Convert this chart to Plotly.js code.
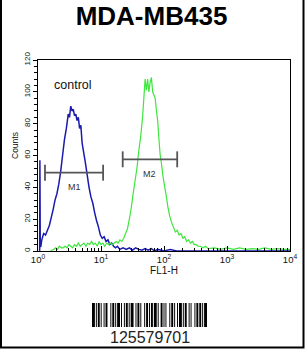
<!DOCTYPE html>
<html>
<head>
<meta charset="utf-8">
<script src="https://cdn.plot.ly/plotly-3.0.1.min.js"></script>
<style>html,body{margin:0;padding:0;background:#fff;}#chart{width:306px;height:350px;}</style>
</head>
<body>
<div id="chart"></div>
<script>
// ---- data (FL1-H given as log10 exponents, counts per channel) ----
const chartTitle = 'MDA-MB435';
const xTickExponents = [0, 1, 2, 3, 4];
const yTickValues = [0, 20, 40, 60, 80, 100, 120];

const blueLogFL1 = [0.026, 0.030, 0.036, 0.044, 0.060, 0.090, 0.120, 0.150, 0.180, 0.210, 0.240, 0.270, 0.300, 0.330, 0.360, 0.390, 0.420, 0.450, 0.480, 0.500, 0.520, 0.540, 0.560, 0.580, 0.600, 0.620, 0.640, 0.660, 0.680, 0.700, 0.720, 0.750, 0.780, 0.810, 0.840, 0.870, 0.900, 0.930, 0.960, 0.990, 1.020, 1.050, 1.080, 1.110, 1.140, 1.170, 1.200, 1.230, 1.260, 1.300, 1.350, 1.400, 1.450, 1.500, 1.550, 1.600, 1.650, 1.700, 1.750, 1.800, 1.850, 1.900, 2.000, 2.100, 2.200, 2.500, 3.000, 3.500, 4.000];
const blueCounts = [0, 57, 3, 2.5, 7, 11, 10, 13, 16, 21, 26, 32, 36, 42, 50, 60, 70, 77, 86, 84, 91, 88, 89, 85, 86, 82, 84, 77, 79, 68, 63, 56, 48, 40, 34, 30, 24, 19, 15, 10, 8, 9, 6, 7, 4, 5, 3, 2, 3, 1, 2, 1, 2, 0.5, 2, 1, 0.5, 1.5, 0.5, 1.5, 0, 1, 0, 1, 0, 0, 0, 0, 0];

const greenLogFL1 = [0.20, 0.22, 0.25, 0.28, 0.31, 0.34, 0.37, 0.40, 0.43, 0.46, 0.49, 0.52, 0.55, 0.58, 0.61, 0.64, 0.67, 0.70, 0.73, 0.76, 0.79, 0.82, 0.85, 0.88, 0.91, 0.94, 0.97, 1.00, 1.03, 1.06, 1.09, 1.12, 1.15, 1.18, 1.21, 1.24, 1.27, 1.30, 1.33, 1.36, 1.39, 1.42, 1.45, 1.48, 1.51, 1.54, 1.57, 1.60, 1.63, 1.66, 1.68, 1.70, 1.72, 1.74, 1.76, 1.78, 1.80, 1.82, 1.84, 1.86, 1.88, 1.90, 1.92, 1.94, 1.96, 1.98, 2.00, 2.03, 2.06, 2.09, 2.12, 2.15, 2.18, 2.21, 2.24, 2.27, 2.30, 2.33, 2.36, 2.39, 2.42, 2.45, 2.48, 2.51, 2.54, 2.58, 2.62, 2.66, 2.70, 2.80, 2.90, 3.00, 3.10, 3.20, 3.30, 3.40, 3.50, 3.60, 3.70, 3.80, 3.90, 4.00];
const greenCounts = [0, 0.5, 1, 2, 1, 3, 2, 2, 3, 2, 4, 3, 2, 4, 3, 5, 3, 4, 5, 3, 5, 4, 6, 4, 5, 3, 6, 4, 5, 3, 5, 4, 5, 4, 5, 6, 5, 7, 6, 8, 11, 14, 20, 27, 36, 44, 52, 63, 72, 84, 96, 108, 101, 108, 100, 106, 109, 100, 98, 96, 88, 82, 70, 60, 55, 48, 43, 36, 28, 22, 18, 15, 12, 13, 10, 11, 8, 9, 6, 7, 5, 6, 4, 4, 3, 3, 2, 3, 1.5, 2, 1, 2, 1, 2, 1, 1.5, 1, 2, 1, 1.5, 1, 1];

const gateNames = ['M1', 'M2'];
const gateLow = [1.29, 22.1];
const gateHigh = [10.8, 162];
const gateCount = [49.2, 57.6];

const barcodeText = '125579701';
const barcodeWidths = [3,1,1,1,2,1,1,2,1,1,2,3,1,1,2,1,1,1,3,1,1,2,1,1,2,1,1,1,3,2,1,1,2,1,1,3,1,1,2,1,1,1,2,1,3,1,1,2,2,1,1,1,1,3,1,1,2,1,1,2,1,1,3,1,1,1,2,2,1,1,1,3,1,1,2,1,2,1,1,1,3];

// ---- helpers ----
const pow10 = e => Math.pow(10, e);
// pixel -> paper conversion for plot area (l=38, r=290, t=60, b=251)
const PL = 38, PR = 290, PT = 60, PB = 251;
const px2x = px => (px - PL) / (PR - PL);
const py2y = py => (PB - py) / (PB - PT);
const FONT = 'Arial, Liberation Sans, sans-serif';

const traces = [
  {x: blueLogFL1.map(pow10), y: blueCounts, type: 'scatter', mode: 'lines',
   line: {color: '#1a1aae', width: 1.5, simplify: false}, hoverinfo: 'skip', showlegend: false},
  {x: greenLogFL1.map(pow10), y: greenCounts, type: 'scatter', mode: 'lines',
   line: {color: '#3ee63e', width: 1.2, simplify: false}, hoverinfo: 'skip', showlegend: false}
];
gateNames.forEach((n, i) => {
  const lo = gateLow[i], hi = gateHigh[i], c = gateCount[i];
  traces.push({x: [lo, lo, null, lo, hi, null, hi, hi],
               y: [c - 5, c + 5, null, c, c, null, c - 5, c + 5],
               type: 'scatter', mode: 'lines', line: {color: '#555555', width: 1.8},
               hoverinfo: 'skip', showlegend: false});
});

const annotations = [
  {text: 'control', xref: 'paper', yref: 'y', x: px2x(52), y: 104, xanchor: 'left', yanchor: 'middle',
   showarrow: false, font: {family: FONT, size: 12.5, color: '#111'}},
  {text: 'Counts', xref: 'paper', yref: 'paper', x: px2x(15), y: py2y(146), textangle: -90,
   xanchor: 'center', yanchor: 'middle', showarrow: false,
   font: {family: FONT, size: 8.5, color: '#111'}},
  {text: barcodeText, xref: 'paper', yref: 'paper', x: px2x(150), y: py2y(337), xanchor: 'center', yanchor: 'middle',
   showarrow: false, font: {family: FONT, size: 16, color: '#222'}}
];
gateNames.forEach((n, i) => {
  annotations.push({text: n, xref: 'x', yref: 'y',
    x: (Math.log10(gateLow[i]) + Math.log10(gateHigh[i])) / 2, y: gateCount[i] - 9,
    xanchor: 'center', yanchor: 'middle', showarrow: false,
    font: {family: FONT, size: 9, color: '#333'}});
});

// barcode shapes (decoration)
const shapes = [];
const bcLeft = 92, bcRight = 207;
const total = barcodeWidths.reduce((a, b) => a + b, 0);
const unit = (bcRight - bcLeft) / total;
let pos = bcLeft;
barcodeWidths.forEach((w, k) => {
  if (k % 2 === 0) {
    shapes.push({type: 'rect', xref: 'paper', yref: 'paper', x0: px2x(pos), x1: px2x(pos + w * unit),
      y0: py2y(327), y1: py2y(303), fillcolor: '#000', line: {width: 0}, layer: 'above'});
  }
  pos += w * unit;
});
// outer frame (left, bottom, right)
shapes.push({type: 'path', xref: 'paper', yref: 'paper',
  path: `M ${px2x(1)} ${py2y(0)} L ${px2x(1)} ${py2y(347.5)} L ${px2x(303.5)} ${py2y(347.5)} L ${px2x(303.5)} ${py2y(0)}`,
  line: {color: '#000', width: 2}});

const minorX = [];
for (let d = 0; d < 4; d++) for (let m = 2; m <= 9; m++) minorX.push(m * pow10(d));

const layout = {
  width: 306, height: 350,
  margin: {l: PL, r: 306 - PR, t: PT, b: 350 - PB, pad: 0},
  paper_bgcolor: '#fff', plot_bgcolor: '#fff',
  showlegend: false,
  title: {text: '<b>' + chartTitle + '</b>', xref: 'container', yref: 'container', x: 151.5 / 306, y: 1 - 16 / 350,
          xanchor: 'center', yanchor: 'middle',
          font: {family: FONT, size: 26, color: '#000'}},
  xaxis: {type: 'log', range: [0, 4], showgrid: false, zeroline: false,
          showline: true, linecolor: '#000', linewidth: 1, mirror: true,
          tickvals: xTickExponents.map(pow10), ticktext: xTickExponents.map(e => '10<sup>' + e + '</sup>'),
          ticks: 'inside', ticklen: 5, tickcolor: '#000',
          minor: {tickvals: minorX, ticks: 'inside', ticklen: 3, tickcolor: '#000'},
          tickfont: {family: FONT, size: 9.5, color: '#111'},
          title: {text: 'FL1-H', standoff: 2, font: {family: FONT, size: 10, color: '#111'}}},
  yaxis: {range: [0, 120], showgrid: false, zeroline: false,
          showline: true, linecolor: '#000', linewidth: 1, mirror: true,
          tickvals: yTickValues, tickangle: -90,
          ticks: 'outside', ticklen: 4, tickcolor: '#000',
          minor: {dtick: 4, ticks: 'outside', ticklen: 3, tickcolor: '#000'},
          tickfont: {family: FONT, size: 8, color: '#111'}},
  annotations: annotations,
  shapes: shapes
};

Plotly.newPlot('chart', traces, layout, {displayModeBar: false, staticPlot: true});
</script>
</body>
</html>
